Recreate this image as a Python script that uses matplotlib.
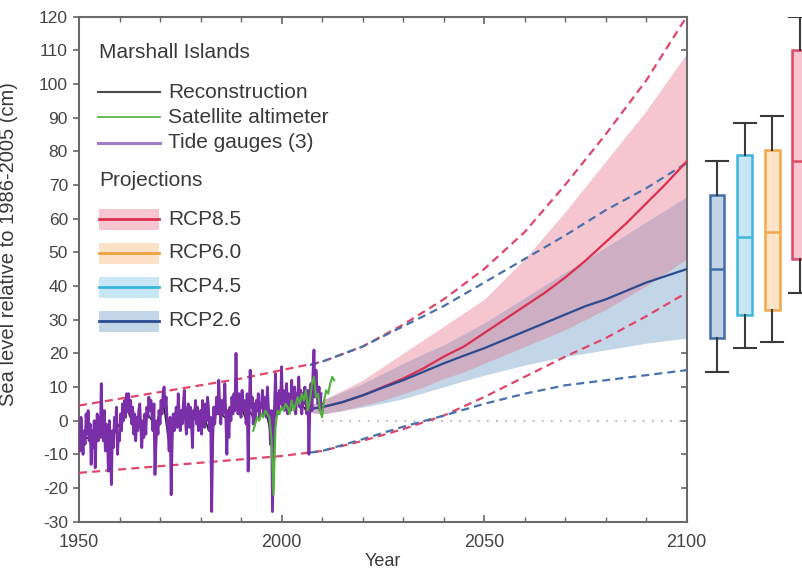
import numpy as np
import matplotlib.pyplot as plt
from matplotlib.patches import Rectangle
from matplotlib.ticker import MultipleLocator

plt.rcParams['font.family'] = ['Liberation Sans', 'DejaVu Sans']
plt.rcParams['axes.unicode_minus'] = False

# --- observations (cm, relative to 1986-2005) ---
# tide gauges, 4 values per year 1950-2009
tide_start = 1950
tide = [
    -2, -9, 1, -5,    -10, -3, -7, 2,   -4, 3, -6, -1,    -13, -3, -8, 0,   -14, -4, 2, -6,
    1, -5, 11, -2,    -6, 3, -9, -1,    -4, -15, 0, -7,   -19, -3, -8, 1,   -2, 4, -10, -4,
    -6, 2, -3, 5,     0, 6, 1, 8,       3, 8, 2, 6,       -1, 4, -4, 2,     -6, 1, -3, 3,
    5, -2, -8, 0,     -5, 2, -4, 4,     1, 7, 3, 6,       2, -3, 5, -16,    -7, 0, -4, 3,
    -1, 6, 2, 8,      10, 4, 7, 0,      -3, -9, 1, -22,   -6, 2, -3, 1,     4, -2, 8, 1,
    -3, 3, -1, 5,     9, 1, -4, 3,      5, -2, 4, 0,      -8, 3, 1, 6,      -1, 4, -3, 2,
    3, -4, 6, 1,      -2, 5, 0, 7,      3, -3, 1, -27,    -6, 4, -1, 3,     7, 2, 12, 4,
    -1, 6, 2, 5,      11, 1, -10, 3,    -5, 4, 0, 7,      2, 8, 3, 20,      6, 2, 8, 4,
    1, 9, 3, 6,       5, -1, 8, -15,    2, 15, 4, 7,      -1, 5, 0, 6,      3, 8, 1, 5,
    4, 9, 2, 7,       6, 1, 10, 4,      2, -7, 3, -27,    -12, 4, 14, 3,    8, 2, 9, 5,
    16, 4, 9, 3,      6, 11, 2, 8,      7, 3, 12, 5,      4, 10, 2, 8,      6, 13, 4, 9,
    2, 8, 5, 10,      7, 2, 9, -10,     5, 11, 3, 14,     21, 7, 15, 9,     5, 10, 3, 8,
]
tide_years = tide_start + np.arange(len(tide)) / 4

# satellite altimeter, half-yearly 1993-2013
sat_years = np.arange(1993, 2013.01, 0.5)
sat = [-3, -1, 1, 0, 2, 1, 3, 2, 1, -5, -22, -2, 3, 2, 4, 3, 5, 4, 2, 6,
       3, 5, 7, 5, 8, 6, 9, 3, 6, 11, 13, 7, 8, 3, 1, 6, 9, 8, 11, 13, 12]

# reconstruction, annual 1950-2010
rec_years = np.arange(1950, 2011)
rec = [-4, -6, -5, -6, -5, -2, -4, -5, -6, -3, -1, 1, 3, 0, -1, -2, -1, 2, 0, -2,
       3, 4, -5, 0, 2, 1, 2, 1, 0, 1, 2, 1, -3, 0, 4, 2, 1, 0, 5, 4,
       4, 1, 3, 1, 3, 4, 4, -2, 0, 4, 6, 5, 6, 5, 7, 5, 3, 8, 10, 6, 5]

# --- projections ---
proj_years = [2007, 2010, 2015, 2020, 2025, 2030, 2035, 2040, 2045, 2050,
              2055, 2060, 2065, 2070, 2075, 2080, 2085, 2090, 2095, 2100]
rcp85_mid = [3.5, 4, 5.5, 7.5, 10, 12.5, 15.5, 19, 22, 26, 30, 34, 38, 42.5, 47.5, 53, 58.5, 64.5, 70.5, 77]
rcp85_lo = [2.5, 2, 3, 4.5, 6, 8, 10, 12.5, 14.5, 17, 19.5, 22, 24.5, 27, 30, 33, 36.5, 40, 44, 48]
rcp85_hi = [4.5, 6, 9, 12, 16, 20, 24, 28, 32, 36, 42, 48, 55, 62, 69.5, 77, 84.5, 92, 100.5, 109]
rcp26_mid = [3.5, 4, 5.5, 7.5, 9.8, 12, 14.5, 17, 19.3, 21.5, 24, 26.5, 29, 31.5, 34, 36, 38.5, 41, 43, 45]
rcp26_lo = [2.5, 2, 3, 4, 5.2, 6.5, 8.3, 10, 11.8, 13.5, 15, 16.5, 17.8, 19, 20, 21, 22, 23, 23.8, 24.5]
rcp26_hi = [4.5, 6, 8.5, 11, 14, 17, 19.8, 22.5, 25.7, 29, 32.7, 36.5, 40.2, 44, 47.7, 51.5, 55.2, 59, 62.7, 66.5]

# outer envelopes (dashed)
env85_years = [1950, 1960, 1970, 1980, 1990, 2000, 2010, 2020, 2030, 2040, 2050, 2060, 2070, 2080, 2090, 2100]
env85_hi = [4.5, 6.5, 8.5, 10.5, 12.5, 15, 17.5, 22, 28.5, 36, 45, 56, 70, 85, 101, 120]
env85_lo = [-15.5, -14.5, -13.5, -12.5, -11.5, -10.5, -9, -6, -2.5, 1.5, 7, 13, 19, 24.5, 31, 38]
env26_years = [2007, 2010, 2020, 2030, 2040, 2050, 2060, 2070, 2080, 2090, 2100]
env26_hi = [16.5, 17.5, 22, 28, 34, 41, 48, 55, 62.5, 69, 76.5]
env26_lo = [-9.5, -9, -5.5, -1.8, 1.5, 5, 8, 10.5, 12, 13.5, 15]

# 2100 box plots: RCP2.6, RCP4.5, RCP6.0, RCP8.5
box_names = ['RCP2.6', 'RCP4.5', 'RCP6.0', 'RCP8.5']
box_lo = [14.5, 21.5, 23.5, 38]
box_q1 = [24.5, 31.5, 33, 48]
box_med = [45, 54.5, 56, 77]
box_q3 = [67, 79, 80.5, 110]
box_hi = [77, 88.5, 90.5, 120]

# colours
c85, c60, c45, c26 = '#dc2f4e', '#f0a040', '#38b4dc', '#2b4c92'
f85, f60, f45, f26 = '#f6c6d0', '#fde2c8', '#c6e7f3', '#c3d6e8'
overlap_col = '#cdaec3'
box_edge = ['#3f6fa8', '#3fb4dc', '#f0a84a', '#dc4a68']
box_face = ['#c2d3e6', '#c5e6f2', '#fde3c8', '#f6c5cf']
txt = '#3a3a3a'

fig = plt.figure(figsize=(8.03, 5.72), dpi=100)
W, H = 803, 572
ax = fig.add_axes([79 / W, (H - 521.7) / H, 607.7 / W, 505.2 / H])

# bands
ax.fill_between(proj_years, rcp85_lo, rcp85_hi, color=f85, lw=0, zorder=1)
ax.fill_between(proj_years, rcp26_lo, rcp26_hi, color=f26, lw=0, zorder=1)
ov_lo = np.maximum(rcp85_lo, rcp26_lo)
ov_hi = np.minimum(rcp85_hi, rcp26_hi)
ax.fill_between(proj_years, ov_lo, ov_hi, where=ov_hi > ov_lo, color=overlap_col, lw=0, zorder=1)

ax.hlines(0, 2010, 2100, colors='#9a9a9a', linestyles=(0, (1, 5)), lw=1.1, zorder=2)

dash = (0, (3.6, 2.3))
ax.plot(env85_years, env85_hi, color='#e0466a', ls=dash, lw=1.6, zorder=3)
ax.plot(env85_years, env85_lo, color='#e0466a', ls=dash, lw=1.6, zorder=3)
ax.plot(env26_years, env26_hi, color='#4a72aa', ls=dash, lw=1.6, zorder=3)
ax.plot(env26_years, env26_lo, color='#4a72aa', ls=dash, lw=1.6, zorder=3)

ax.plot(proj_years, rcp85_mid, color=c85, lw=1.6, zorder=4)
ax.plot(proj_years, rcp26_mid, color=c26, lw=1.6, zorder=4)

ax.plot(rec_years, rec, color='#222222', lw=1.2, zorder=5)
ax.plot(tide_years, tide, color='#7a2ea8', lw=2.0, zorder=6)
ax.plot(sat_years, sat, color='#4fb03a', lw=1.5, zorder=7)

ax.set_xlim(1950, 2100)
ax.set_ylim(-30, 120)
ax.xaxis.set_major_locator(MultipleLocator(50))
ax.xaxis.set_minor_locator(MultipleLocator(10))
ax.yaxis.set_major_locator(MultipleLocator(10))
ax.tick_params(axis='x', which='both', direction='in', top=True, colors='#666666',
               labelcolor='#444444', labelsize=13, pad=9)
ax.tick_params(axis='x', which='major', length=5, width=1.2)
ax.tick_params(axis='x', which='minor', length=3.5, width=1.0)
ax.tick_params(axis='y', which='major', direction='out', length=4, width=1.2,
               colors='#666666', labelcolor='#444444', labelsize=12.5, pad=4)
# inward ticks on the right spine
ax_r = ax.secondary_yaxis('right')
ax_r.yaxis.set_major_locator(MultipleLocator(10))
ax_r.tick_params(direction='in', length=4.5, width=1.2, colors='#666666', labelright=False)
ax_r.spines['right'].set_visible(False)
for s in ax.spines.values():
    s.set_color('#6a6a6a')
    s.set_linewidth(1.5)

ax.set_xlabel('Year', fontsize=13, color=txt, labelpad=1)
ax.set_ylabel('Sea level relative to 1986-2005 (cm)', fontsize=14.5, color=txt)
ax.yaxis.set_label_coords(-0.100, 0.55)


# --- legend drawn by hand (image pixel positions -> axes fraction) ---
def fx(x):
    return (x - 79) / 607.7


def fy(y):
    return (521.7 - y) / 505.2


lx0, lx1, tx = 98, 160, 168
fs = 15
ax.text(fx(99), fy(53), 'Marshall Islands', transform=ax.transAxes, fontsize=fs, color=txt, va='center')
obs_rows = [('Reconstruction', '#4a4a4a', 1.5, 92),
            ('Satellite altimeter', '#5cb848', 1.3, 117),
            ('Tide gauges (3)', '#a07ccc', 2.2, 143)]
for label, col, lw, y in obs_rows:
    ax.plot([fx(lx0), fx(lx1)], [fy(y), fy(y)], transform=ax.transAxes, color=col, lw=lw, clip_on=False)
    ax.text(fx(tx), fy(y), label, transform=ax.transAxes, fontsize=fs, color=txt, va='center')

ax.text(fx(99), fy(180), 'Projections', transform=ax.transAxes, fontsize=fs, color=txt, va='center')
proj_rows = [('RCP8.5', c85, f85, 219), ('RCP6.0', c60, f60, 253),
             ('RCP4.5', c45, f45, 287), ('RCP2.6', c26, f26, 321)]
for label, col, fcol, y in proj_rows:
    ax.add_patch(Rectangle((fx(99), fy(y + 10.5)), fx(159) - fx(99), fy(y - 10.5) - fy(y + 10.5),
                           transform=ax.transAxes, facecolor=fcol, edgecolor='none', clip_on=False))
    ax.plot([fx(99), fx(159)], [fy(y), fy(y)], transform=ax.transAxes, color=col, lw=2, clip_on=False)
    ax.text(fx(tx), fy(y), label, transform=ax.transAxes, fontsize=fs, color=txt, va='center')

# --- 2100 range boxes, off to the right (last one runs past the edge) ---
bx = fig.add_axes([700 / W, (H - 521.7) / H, 130 / W, 505.2 / H])
stats = [dict(med=m, q1=a, q3=b, whislo=lo, whishi=hi, label=n)
         for n, lo, a, m, b, hi in zip(box_names, box_lo, box_q1, box_med, box_q3, box_hi)]
res = bx.bxp(stats, positions=[1, 2, 3, 4], widths=0.54, capwidths=0.8, showfliers=False,
             patch_artist=True,
             whiskerprops=dict(color='#3a3a3a', lw=1.5),
             capprops=dict(color='#3a3a3a', lw=1.5))
for i, b in enumerate(res['boxes']):
    b.set_facecolor(box_face[i])
    b.set_edgecolor(box_edge[i])
    b.set_linewidth(1.8)
    res['medians'][i].set_color(box_edge[i])
    res['medians'][i].set_linewidth(1.8)
bx.set_xlim(1 - 17 / 27.6, 4 + 30 / 27.6)
bx.set_ylim(-30, 120)
bx.axis('off')

fig.savefig('out.png', dpi=100)
